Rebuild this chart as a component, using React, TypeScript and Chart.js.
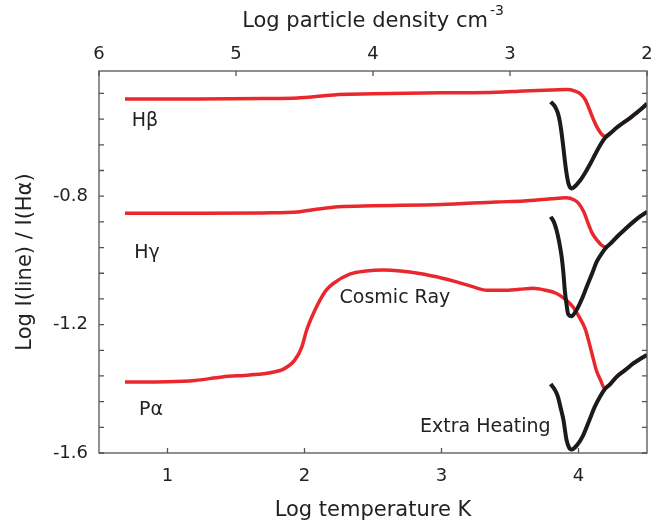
import React, { useEffect, useRef } from 'react';
import { Chart, registerables } from 'chart.js';

Chart.register(...registerables);

// ---- Axis ticks ----
const X_TICKS = [1, 2, 3, 4];
const TOP_TICKS = [6, 5, 4, 3, 2];
const Y_LABEL_TICKS = [-1.6, -1.2, -0.8];
const Y_MINOR_TICKS = [-1.6, -1.52, -1.44, -1.36, -1.28, -1.2, -1.12, -1.04, -0.96, -0.88, -0.8, -0.72, -0.64, -0.56, -0.48];

// ---- Series: Cosmic Ray (red) ----
const HB_RED_X = [0.69, 1.2, 1.7, 1.95, 2.1, 2.25, 2.5, 3.0, 3.4, 3.6, 3.8, 3.92, 3.97, 4.01, 4.05, 4.08, 4.11, 4.135, 4.16, 4.19, 4.23, 4.28, 4.325, 4.38, 4.43, 4.47, 4.5];
const HB_RED_Y = [-0.497, -0.497, -0.496, -0.494, -0.489, -0.483, -0.481, -0.478, -0.476, -0.472, -0.469, -0.468, -0.472, -0.48, -0.5, -0.53, -0.562, -0.585, -0.602, -0.613, -0.605, -0.586, -0.572, -0.555, -0.538, -0.524, -0.512];

const HG_RED_X = [0.69, 1.2, 1.7, 1.95, 2.1, 2.25, 2.5, 3.0, 3.4, 3.6, 3.8, 3.91, 3.97, 4.0, 4.04, 4.07, 4.1, 4.135, 4.17, 4.2, 4.24, 4.28, 4.34, 4.4, 4.45, 4.5];
const HG_RED_Y = [-0.853, -0.853, -0.852, -0.849, -0.84, -0.833, -0.83, -0.826, -0.818, -0.815, -0.808, -0.805, -0.812, -0.822, -0.85, -0.884, -0.915, -0.937, -0.953, -0.958, -0.945, -0.927, -0.903, -0.88, -0.863, -0.849];

const PA_RED_X = [0.69, 1.0, 1.2, 1.4, 1.6, 1.75, 1.85, 1.93, 1.98, 2.016, 2.06, 2.113, 2.16, 2.21, 2.33, 2.45, 2.575, 2.7, 2.84, 3.0, 3.11, 3.22, 3.33, 3.45, 3.57, 3.67, 3.75, 3.84, 3.9, 3.96, 4.01, 4.05, 4.08, 4.11, 4.13, 4.16, 4.19, 4.23, 4.28, 4.34, 4.4, 4.45, 4.5];
const PA_RED_Y = [-1.379, -1.378, -1.374, -1.363, -1.357, -1.35, -1.338, -1.31, -1.27, -1.217, -1.17, -1.124, -1.092, -1.072, -1.043, -1.033, -1.03, -1.033, -1.041, -1.055, -1.067, -1.081, -1.093, -1.093, -1.09, -1.087, -1.092, -1.103, -1.12, -1.145, -1.18, -1.215, -1.26, -1.31, -1.342, -1.372, -1.398, -1.386, -1.362, -1.342, -1.321, -1.307, -1.295];

// ---- Series: Extra Heating (black) ----
const HB_BLK_X = [3.797, 3.83, 3.85, 3.865, 3.877, 3.89, 3.9, 3.915, 3.93, 3.95, 3.97, 4.01, 4.05, 4.09, 4.125, 4.16, 4.19, 4.23, 4.28, 4.325, 4.38, 4.43, 4.47, 4.5];
const HB_BLK_Y = [-0.506, -0.522, -0.542, -0.57, -0.605, -0.65, -0.688, -0.735, -0.765, -0.776, -0.771, -0.752, -0.726, -0.696, -0.667, -0.64, -0.62, -0.605, -0.586, -0.572, -0.555, -0.538, -0.524, -0.512];

const HG_BLK_X = [3.797, 3.82, 3.84, 3.86, 3.877, 3.89, 3.9, 3.912, 3.925, 3.95, 3.975, 3.998, 4.03, 4.06, 4.1, 4.133, 4.17, 4.206, 4.24, 4.28, 4.34, 4.4, 4.45, 4.5];
const HG_BLK_Y = [-0.864, -0.88, -0.906, -0.945, -0.989, -1.04, -1.093, -1.135, -1.168, -1.174, -1.162, -1.145, -1.115, -1.082, -1.04, -1.004, -0.978, -0.958, -0.945, -0.927, -0.903, -0.88, -0.863, -0.849];

const PA_BLK_X = [3.797, 3.83, 3.85, 3.87, 3.89, 3.913, 3.93, 3.95, 3.99, 4.035, 4.08, 4.12, 4.157, 4.19, 4.23, 4.28, 4.34, 4.4, 4.45, 4.5];
const PA_BLK_Y = [-1.385, -1.405, -1.425, -1.46, -1.497, -1.56, -1.582, -1.589, -1.575, -1.544, -1.497, -1.455, -1.425, -1.402, -1.386, -1.362, -1.342, -1.321, -1.307, -1.295];

// ---- In-plot text labels (data coordinates) ----
const LABEL_TEXT = ['Hβ', 'Hγ', 'Pα', 'Cosmic Ray', 'Extra Heating'];
const LABEL_X = [0.836, 0.85, 0.88, 2.66, 3.32];
const LABEL_Y = [-0.567, -0.977, -1.466, -1.118, -1.519];

const RED = '#e8282c';
const BLACK = '#1b1b1b';
const FONT = '"DejaVu Sans", "Liberation Sans", sans-serif';

const pts = (xs: number[], ys: number[]) => xs.map((x, i) => ({ x, y: ys[i] }));

const framePlugin = {
  id: 'frame',
  afterDatasetsDraw(chart: any) {
    const { ctx, chartArea: a, scales } = chart;
    ctx.save();
    ctx.strokeStyle = '#555';
    ctx.lineWidth = 1.3;
    ctx.strokeRect(a.left, a.top, a.right - a.left, a.bottom - a.top);
    const L = 5;
    ctx.beginPath();
    X_TICKS.forEach((v) => {
      const px = scales.x.getPixelForValue(v);
      ctx.moveTo(px, a.bottom);
      ctx.lineTo(px, a.bottom - L);
    });
    TOP_TICKS.forEach((v) => {
      const px = scales.x2.getPixelForValue(v);
      ctx.moveTo(px, a.top);
      ctx.lineTo(px, a.top + L);
    });
    Y_MINOR_TICKS.forEach((v) => {
      const py = scales.y.getPixelForValue(v);
      ctx.moveTo(a.left, py);
      ctx.lineTo(a.left + L, py);
      ctx.moveTo(a.right, py);
      ctx.lineTo(a.right - L, py);
    });
    ctx.stroke();

    // in-plot labels
    ctx.fillStyle = '#222';
    ctx.font = `19px ${FONT}`;
    ctx.textAlign = 'center';
    ctx.textBaseline = 'middle';
    LABEL_TEXT.forEach((t, i) => {
      ctx.fillText(t, scales.x.getPixelForValue(LABEL_X[i]), scales.y.getPixelForValue(LABEL_Y[i]));
    });

    // top title with superscript
    const main = 'Log particle density cm';
    const sup = '-3';
    ctx.font = `21px ${FONT}`;
    const w1 = ctx.measureText(main).width;
    ctx.font = `14px ${FONT}`;
    const w2 = ctx.measureText(sup).width;
    const cx = (a.left + a.right) / 2;
    const start = cx - (w1 + w2 + 2) / 2;
    ctx.textAlign = 'left';
    ctx.textBaseline = 'alphabetic';
    ctx.font = `21px ${FONT}`;
    ctx.fillText(main, start, 27);
    ctx.font = `14px ${FONT}`;
    ctx.fillText(sup, start + w1 + 2, 15);
    ctx.restore();
  },
};

export default function App() {
  const ref = useRef<HTMLCanvasElement | null>(null);

  useEffect(() => {
    document.body.style.margin = '0';
    const canvas = ref.current;
    if (!canvas) return;
    const line = (xs: number[], ys: number[], color: string, w: number, order: number) => ({
      data: pts(xs, ys),
      showLine: true,
      borderColor: color,
      backgroundColor: color,
      borderWidth: w,
      pointRadius: 0,
      cubicInterpolationMode: 'monotone' as const,
      fill: false,
      order,
    });
    const tickFont = { family: FONT, size: 18 };
    const chart = new Chart(canvas, {
      type: 'scatter',
      data: {
        datasets: [
          line(HB_BLK_X, HB_BLK_Y, BLACK, 4, 1),
          line(HG_BLK_X, HG_BLK_Y, BLACK, 4, 1),
          line(PA_BLK_X, PA_BLK_Y, BLACK, 4, 1),
          line(HB_RED_X, HB_RED_Y, RED, 3.5, 2),
          line(HG_RED_X, HG_RED_Y, RED, 3.5, 2),
          line(PA_RED_X, PA_RED_Y, RED, 3.5, 2),
        ],
      },
      options: {
        responsive: false,
        animation: false,
        events: [],
        layout: { padding: { left: 0, right: 24, top: 0, bottom: 0 } },
        plugins: { legend: { display: false }, tooltip: { enabled: false } },
        scales: {
          x: {
            type: 'linear',
            position: 'bottom',
            min: 0.5,
            max: 4.5,
            grid: { display: false, drawTicks: false },
            border: { display: false },
            ticks: { font: tickFont, color: '#222', padding: 13, autoSkip: false, maxRotation: 0 },
            afterBuildTicks: (s: any) => { s.ticks = X_TICKS.map((v) => ({ value: v })); },
            afterFit: (s: any) => { s.height = 71; },
            title: { display: true, text: 'Log temperature K', font: { family: FONT, size: 21 }, color: '#222', padding: { top: 0, bottom: 1 } },
          },
          x2: {
            type: 'linear',
            axis: 'x',
            position: 'top',
            min: 2,
            max: 6,
            reverse: true,
            grid: { display: false, drawTicks: false },
            border: { display: false },
            ticks: { font: tickFont, color: '#222', padding: 6, autoSkip: false, maxRotation: 0 },
            afterBuildTicks: (s: any) => { s.ticks = TOP_TICKS.map((v) => ({ value: v })); },
            afterFit: (s: any) => { s.height = 71; },
          },
          y: {
            type: 'linear',
            position: 'left',
            min: -1.6,
            max: -0.41,
            grid: { display: false, drawTicks: false },
            border: { display: false },
            ticks: { font: tickFont, color: '#222', padding: 11, autoSkip: false, callback: (v: any) => String(v) },
            afterBuildTicks: (s: any) => { s.ticks = Y_LABEL_TICKS.map((v) => ({ value: v })); },
            afterFit: (s: any) => { s.width = 99; },
            title: { display: true, text: 'Log I(line) / I(Hα)', font: { family: FONT, size: 21 }, color: '#222', padding: { top: 13, bottom: 0 } },
          },
        },
      },
      plugins: [framePlugin],
    });
    return () => chart.destroy();
  }, []);

  return (
    <div style={{ position: 'fixed', left: 0, top: 0, width: 671, height: 524, background: '#fff' }}>
      <canvas ref={ref} width={671} height={524} style={{ display: 'block', width: 671, height: 524 }} />
    </div>
  );
}
